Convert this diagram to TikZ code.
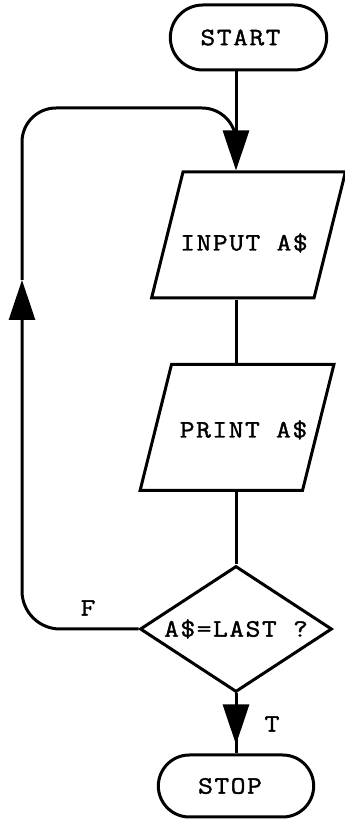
\documentclass[tikz,border=0pt]{standalone}
\usepackage{fontspec}
\newfontfamily\chartfont[FakeStretch=1.15,LetterSpace=6,FakeBold=1.5]{Latin Modern Mono}
\usetikzlibrary{arrows.meta,shapes.geometric,shapes.misc,decorations.markings}

\begin{document}
\begin{tikzpicture}[x=1pt,y=1pt,
        every node/.style={font=\chartfont\fontsize{25}{29}\selectfont},
        flow/.style={line width=3pt},
        bigtip/.tip={Triangle[width=26pt,length=40pt]},
        terminal/.style={draw,line width=3pt,rounded rectangle,minimum width=163pt,minimum height=65pt},
        io/.style={draw,line width=3pt,trapezium,trapezium left angle=76,trapezium right angle=104,
            text height=16.5pt,text depth=1.5pt,inner xsep=0pt,inner ysep=54pt},
        decision/.style={draw,line width=3pt,diamond,aspect=1.5,inner sep=0pt,minimum width=192pt,minimum height=126pt}]
    \useasboundingbox (0,0) rectangle (345,820);

    % boxes
    \node [terminal] (start) at (248.5,782.5) {\hspace*{-16pt}START};
    \node [io, text height=31pt, text depth=0pt, inner ysep=47.5pt] (input) at (248.5,585) {\makebox[131pt]{\hspace*{-9pt}INPUT A\$}};
    \node [io, text height=20pt, text depth=0pt, inner ysep=53pt] (print) at (237,392.5) {\makebox[131pt]{\hspace*{13pt}PRINT A\$}};
    \node [decision] (test) at (236,191) {A\$=LAST ?};
    \node [terminal, minimum width=162pt, minimum height=62pt] (stop) at (236,34) {\hspace*{-12pt}STOP};

    % turning points
    \coordinate (spine) at (236,0);
    \coordinate (fturn) at (22,191);
    \coordinate (uptip) at (22,540);
    \coordinate (topturn) at (22,712);
    \coordinate (joint) at (236,686);

    % main line
    \draw [flow,-{bigtip}] (start.south -| spine) -- (input.north -| spine);
    \draw [flow] (input.south -| spine) -- (print.north -| spine);
    \draw [flow] (print.south -| spine) -- (test.north);
    \draw [flow,postaction={decorate},
        decoration={markings,mark=at position 0.85 with {\arrow{bigtip}}}] (test.south) -- (stop.north);

    % loop back
    \draw [flow,rounded corners=38pt,-{bigtip}] (test.west) -- (fturn) -- (uptip);
    \draw [flow,rounded corners=34pt] (uptip) -- (topturn) -- (topturn -| joint) -- (joint);

    \node (f) at (88,212) {F};
    \node (t) at (272,96) {T};
\end{tikzpicture}
\end{document}
